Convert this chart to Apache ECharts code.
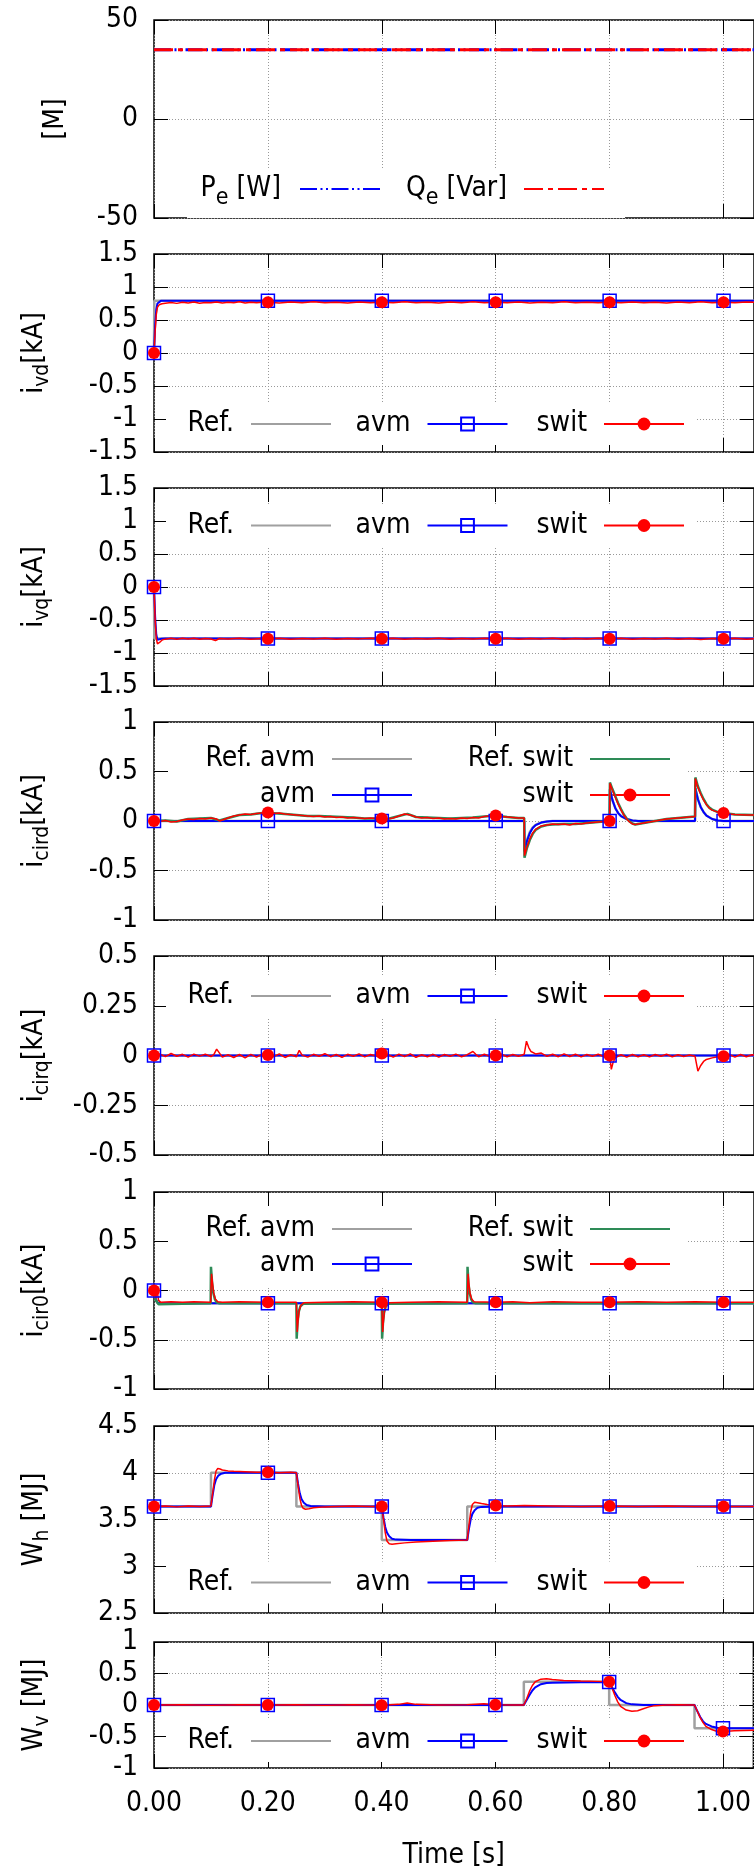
<!DOCTYPE html>
<html><head><meta charset="utf-8">
<script src="https://cdn.jsdelivr.net/npm/echarts@6/dist/echarts.min.js"></script>
<style>html,body{margin:0;padding:0;background:#fff}#c{width:754px;height:1874px}</style>
</head><body><div id="c"></div>
<script>
// ---------------- DATA ----------------
const markTimes = [0, 0.2, 0.4, 0.6, 0.8, 1.0];
const xTickLabels = ['0.00','0.20','0.40','0.60','0.80','1.00'];

// Panel 1: P_e, Q_e [M]
const pe = [[0,35],[1.06,35]];
const qe = [[0,35],[1.06,35]];

// Panel 2: i_vd [kA]
const ivdRef = [[0,0],[0.0005,0.79],[1.06,0.79]];
const ivdAvm = [[0,0],[0.002,0.42],[0.004,0.66],[0.006,0.75],[0.008,0.78],[0.012,0.79],[0.2,0.79],[0.4,0.79],[0.6,0.79],[0.8,0.79],[1.0,0.79],[1.06,0.79]];
const ivdSwit = [[0,0],[0.002,0.33],[0.004,0.58],[0.006,0.69],[0.009,0.73],[0.014,0.745],[0.02,0.755],[0.03,0.765],[0.04,0.752],[0.05,0.768],[0.06,0.758],[0.07,0.772],[0.08,0.755],[0.09,0.766],[0.1,0.76],[0.11,0.774],[0.12,0.757],[0.13,0.768],[0.14,0.762],[0.15,0.775],[0.16,0.758],[0.17,0.77],[0.18,0.76],[0.19,0.768],[0.2,0.77],[0.22,0.758],[0.24,0.772],[0.26,0.762],[0.28,0.775],[0.3,0.76],[0.32,0.77],[0.34,0.758],[0.36,0.773],[0.38,0.763],[0.4,0.77],[0.42,0.76],[0.44,0.775],[0.46,0.762],[0.48,0.77],[0.5,0.757],[0.52,0.772],[0.54,0.762],[0.56,0.776],[0.58,0.76],[0.6,0.77],[0.62,0.76],[0.64,0.773],[0.66,0.758],[0.68,0.77],[0.7,0.762],[0.72,0.775],[0.74,0.76],[0.76,0.77],[0.78,0.762],[0.8,0.77],[0.82,0.76],[0.84,0.774],[0.86,0.762],[0.88,0.77],[0.9,0.758],[0.92,0.772],[0.94,0.762],[0.96,0.775],[0.98,0.76],[1.0,0.77],[1.02,0.762],[1.04,0.772],[1.06,0.765]];

// Panel 3: i_vq [kA]
const ivqRef = [[0,0],[0.0005,-0.78],[1.06,-0.78]];
const ivqAvm = [[0,0],[0.002,-0.45],[0.004,-0.72],[0.006,-0.8],[0.009,-0.805],[0.013,-0.785],[0.02,-0.78],[0.2,-0.78],[0.4,-0.78],[0.6,-0.78],[0.8,-0.78],[1.0,-0.78],[1.06,-0.78]];
const ivqSwit = [[0,0],[0.002,-0.5],[0.004,-0.78],[0.006,-0.86],[0.008,-0.865],[0.011,-0.83],[0.015,-0.8],[0.02,-0.79],[0.03,-0.775],[0.04,-0.79],[0.05,-0.778],[0.06,-0.788],[0.07,-0.775],[0.08,-0.79],[0.09,-0.78],[0.1,-0.787],[0.108,-0.81],[0.115,-0.78],[0.13,-0.788],[0.15,-0.776],[0.17,-0.79],[0.19,-0.78],[0.2,-0.785],[0.22,-0.776],[0.24,-0.79],[0.26,-0.78],[0.28,-0.788],[0.3,-0.775],[0.32,-0.79],[0.34,-0.78],[0.36,-0.786],[0.38,-0.776],[0.4,-0.785],[0.42,-0.778],[0.44,-0.79],[0.46,-0.78],[0.48,-0.788],[0.5,-0.776],[0.52,-0.79],[0.54,-0.78],[0.56,-0.787],[0.58,-0.777],[0.6,-0.785],[0.62,-0.778],[0.64,-0.79],[0.66,-0.78],[0.68,-0.786],[0.7,-0.776],[0.72,-0.79],[0.74,-0.78],[0.76,-0.787],[0.78,-0.777],[0.8,-0.785],[0.82,-0.778],[0.84,-0.79],[0.86,-0.78],[0.88,-0.788],[0.9,-0.776],[0.92,-0.79],[0.94,-0.78],[0.96,-0.795],[0.98,-0.782],[1.0,-0.785],[1.02,-0.778],[1.04,-0.79],[1.06,-0.782]];

// Panel 4: i_cird [kA]
const icirdRefAvm = [[0,0],[0.65,0],[0.6505,-0.3],[0.655,-0.19],[0.66,-0.11],[0.665,-0.065],[0.67,-0.04],[0.68,-0.015],[0.69,-0.005],[0.7,0],[0.8,0],[0.8005,0.32],[0.805,0.21],[0.81,0.13],[0.815,0.08],[0.82,0.05],[0.83,0.02],[0.84,0.005],[0.85,0],[0.95,0],[0.9505,0.33],[0.955,0.22],[0.96,0.14],[0.965,0.09],[0.97,0.055],[0.98,0.02],[0.99,0.005],[1.0,0],[1.06,0]];
const icirdAvm = [[0,0],[0.2,0],[0.4,0],[0.6,0],[0.65,0],[0.6505,-0.31],[0.655,-0.2],[0.66,-0.12],[0.665,-0.07],[0.67,-0.042],[0.68,-0.016],[0.69,-0.006],[0.7,0],[0.8,0],[0.8005,0.32],[0.805,0.21],[0.81,0.13],[0.815,0.08],[0.82,0.05],[0.83,0.02],[0.84,0.005],[0.85,0],[0.95,0],[0.9505,0.33],[0.955,0.22],[0.96,0.14],[0.965,0.09],[0.97,0.055],[0.98,0.02],[0.99,0.005],[1.0,0],[1.06,0]];
const icirdRefSwit = [[0,0],[0.02,0.005],[0.04,-0.005],[0.06,0.02],[0.08,0.025],[0.1,0.03],[0.115,0.005],[0.13,0.03],[0.15,0.06],[0.17,0.065],[0.19,0.08],[0.21,0.078],[0.23,0.07],[0.25,0.06],[0.27,0.05],[0.29,0.05],[0.31,0.045],[0.33,0.04],[0.35,0.035],[0.37,0.025],[0.39,0.025],[0.41,0.02],[0.43,0.05],[0.445,0.072],[0.46,0.04],[0.48,0.035],[0.5,0.03],[0.52,0.025],[0.54,0.03],[0.56,0.035],[0.58,0.045],[0.6,0.055],[0.62,0.04],[0.64,0.03],[0.65,0.03],[0.6505,-0.37],[0.655,-0.27],[0.66,-0.19],[0.665,-0.13],[0.67,-0.09],[0.68,-0.055],[0.69,-0.04],[0.7,-0.035],[0.72,-0.03],[0.74,-0.03],[0.76,-0.02],[0.78,-0.01],[0.8,0],[0.8005,0.39],[0.805,0.32],[0.81,0.25],[0.815,0.18],[0.82,0.12],[0.825,0.065],[0.83,0.025],[0.835,-0.005],[0.84,-0.025],[0.845,-0.035],[0.85,-0.03],[0.86,-0.02],[0.88,0],[0.9,0.02],[0.92,0.03],[0.94,0.04],[0.95,0.045],[0.9505,0.44],[0.955,0.35],[0.96,0.28],[0.965,0.22],[0.97,0.17],[0.975,0.135],[0.98,0.115],[0.99,0.09],[1.0,0.08],[1.02,0.065],[1.06,0.06]];
const icirdSwit = [[0,0],[0.01,-0.005],[0.02,0.005],[0.03,-0.01],[0.04,-0.005],[0.05,0.01],[0.06,0.02],[0.07,0.015],[0.08,0.025],[0.09,0.02],[0.1,0.03],[0.11,0.02],[0.115,0.0],[0.12,0.01],[0.13,0.03],[0.14,0.05],[0.15,0.06],[0.16,0.07],[0.17,0.065],[0.18,0.075],[0.19,0.08],[0.2,0.085],[0.21,0.075],[0.22,0.08],[0.23,0.07],[0.24,0.065],[0.25,0.06],[0.26,0.055],[0.27,0.05],[0.28,0.045],[0.29,0.05],[0.3,0.04],[0.31,0.045],[0.32,0.035],[0.33,0.04],[0.34,0.03],[0.35,0.035],[0.36,0.03],[0.37,0.025],[0.38,0.03],[0.39,0.025],[0.4,0.025],[0.41,0.02],[0.42,0.03],[0.43,0.05],[0.44,0.07],[0.45,0.06],[0.46,0.04],[0.47,0.03],[0.48,0.035],[0.49,0.025],[0.5,0.03],[0.51,0.02],[0.52,0.025],[0.53,0.02],[0.54,0.03],[0.55,0.025],[0.56,0.035],[0.57,0.03],[0.58,0.045],[0.59,0.05],[0.6,0.055],[0.61,0.045],[0.62,0.04],[0.63,0.035],[0.64,0.03],[0.65,0.03],[0.6505,-0.35],[0.655,-0.26],[0.66,-0.18],[0.665,-0.12],[0.67,-0.085],[0.68,-0.05],[0.69,-0.04],[0.7,-0.03],[0.71,-0.035],[0.72,-0.03],[0.73,-0.04],[0.74,-0.025],[0.75,-0.03],[0.76,-0.02],[0.77,-0.015],[0.78,-0.01],[0.79,-0.005],[0.8,0],[0.8005,0.38],[0.805,0.31],[0.81,0.24],[0.815,0.17],[0.82,0.11],[0.825,0.06],[0.83,0.02],[0.835,-0.01],[0.84,-0.03],[0.845,-0.035],[0.85,-0.03],[0.86,-0.02],[0.87,-0.01],[0.88,0.0],[0.89,0.01],[0.9,0.02],[0.91,0.025],[0.92,0.03],[0.93,0.035],[0.94,0.04],[0.95,0.045],[0.9505,0.43],[0.955,0.34],[0.96,0.27],[0.965,0.21],[0.97,0.165],[0.975,0.13],[0.98,0.11],[0.99,0.09],[1.0,0.08],[1.01,0.07],[1.02,0.065],[1.04,0.06],[1.06,0.06]];

// Panel 5: i_cirq [kA]
const icirqRef = [[0,0],[1.06,0]];
const icirqAvm = [[0,0],[0.2,0],[0.4,0],[0.6,0],[0.8,0],[1.0,0],[1.06,0]];
const icirqSwit = [[0,0],[0.01,0.008],[0.02,-0.006],[0.03,0.01],[0.04,-0.004],[0.05,0.006],[0.06,-0.008],[0.07,0.007],[0.08,-0.003],[0.09,0.006],[0.1,-0.005],[0.105,0.004],[0.11,0.032],[0.115,0.012],[0.12,-0.008],[0.13,0.004],[0.14,-0.01],[0.15,0.005],[0.16,-0.012],[0.17,0.006],[0.18,-0.008],[0.19,0.007],[0.2,0.002],[0.21,-0.006],[0.22,0.008],[0.23,-0.01],[0.24,0.004],[0.25,-0.006],[0.255,0.026],[0.26,0.002],[0.27,-0.008],[0.28,0.006],[0.29,-0.004],[0.3,0.009],[0.31,-0.006],[0.32,0.005],[0.33,-0.009],[0.34,0.006],[0.35,-0.004],[0.36,0.008],[0.37,-0.007],[0.38,0.005],[0.39,-0.003],[0.4,0.01],[0.405,-0.012],[0.41,0.006],[0.42,-0.008],[0.43,0.007],[0.44,-0.005],[0.45,0.008],[0.46,-0.009],[0.47,0.004],[0.48,-0.006],[0.49,0.006],[0.5,-0.008],[0.51,0.005],[0.52,-0.004],[0.53,0.007],[0.54,-0.006],[0.55,0.004],[0.56,0.02],[0.565,0.006],[0.57,-0.006],[0.58,0.006],[0.59,-0.005],[0.6,0.0],[0.61,0.007],[0.62,-0.006],[0.63,0.005],[0.64,-0.004],[0.65,0.006],[0.654,0.072],[0.658,0.04],[0.662,0.02],[0.67,0.008],[0.68,0.012],[0.69,-0.004],[0.7,0.006],[0.71,-0.006],[0.72,0.008],[0.73,-0.005],[0.74,0.006],[0.75,-0.007],[0.76,0.005],[0.77,-0.004],[0.78,0.006],[0.79,-0.006],[0.8,0.0],[0.803,-0.07],[0.806,-0.035],[0.81,-0.012],[0.82,0.004],[0.83,-0.008],[0.84,0.005],[0.85,-0.006],[0.86,0.004],[0.87,-0.007],[0.88,0.005],[0.89,-0.004],[0.9,0.006],[0.91,-0.006],[0.92,0.004],[0.93,-0.005],[0.94,0.003],[0.95,-0.004],[0.955,-0.079],[0.96,-0.05],[0.965,-0.03],[0.97,-0.02],[0.98,-0.012],[0.99,-0.006],[1.0,-0.004],[1.01,0.006],[1.02,-0.008],[1.03,0.005],[1.04,-0.006],[1.05,0.004],[1.06,0]];

// Panel 6: i_cir0 [kA]
const icir0RefAvm = [[0,0],[0.003,-0.08],[0.006,-0.12],[0.01,-0.13],[1.06,-0.13]];
const icir0Avm = [[0,0],[0.003,-0.09],[0.006,-0.125],[0.01,-0.13],[0.2,-0.13],[0.4,-0.13],[0.6,-0.13],[0.8,-0.13],[1.0,-0.13],[1.06,-0.13]];
const icir0RefSwit = [[0,0],[0.003,-0.1],[0.008,-0.14],[0.05,-0.135],[0.0995,-0.13],[0.1,0.24],[0.102,0.08],[0.104,-0.02],[0.107,-0.09],[0.11,-0.12],[0.115,-0.13],[0.25,-0.13],[0.2505,-0.49],[0.252,-0.33],[0.254,-0.22],[0.257,-0.16],[0.262,-0.135],[0.4,-0.13],[0.4005,-0.49],[0.402,-0.33],[0.404,-0.22],[0.407,-0.16],[0.412,-0.135],[0.55,-0.13],[0.5505,0.24],[0.552,0.08],[0.554,-0.02],[0.557,-0.09],[0.56,-0.12],[0.565,-0.13],[1.06,-0.13]];
const icir0Swit = [[0,0],[0.003,-0.08],[0.005,0.02],[0.008,-0.1],[0.012,-0.12],[0.03,-0.115],[0.05,-0.12],[0.07,-0.115],[0.0995,-0.12],[0.101,0.17],[0.103,0.06],[0.105,-0.03],[0.108,-0.09],[0.112,-0.115],[0.12,-0.12],[0.15,-0.115],[0.2,-0.12],[0.25,-0.12],[0.2515,-0.42],[0.253,-0.3],[0.255,-0.2],[0.258,-0.15],[0.263,-0.125],[0.3,-0.12],[0.35,-0.115],[0.4,-0.12],[0.4015,-0.42],[0.403,-0.3],[0.405,-0.2],[0.408,-0.15],[0.413,-0.125],[0.45,-0.12],[0.5,-0.115],[0.55,-0.12],[0.5515,0.17],[0.553,0.06],[0.555,-0.03],[0.558,-0.09],[0.562,-0.115],[0.6,-0.12],[0.63,-0.115],[0.66,-0.125],[0.7,-0.115],[0.75,-0.12],[0.8,-0.12],[0.85,-0.115],[0.9,-0.12],[0.95,-0.115],[1.0,-0.12],[1.06,-0.12]];

// Panel 7: W_h [MJ]
const whRef = [[0,3.64],[0.1,3.64],[0.1,4.0],[0.25,4.0],[0.25,3.64],[0.4,3.64],[0.4,3.28],[0.55,3.28],[0.55,3.64],[1.06,3.64]];
const whAvm = [[0,3.64],[0.1,3.64],[0.103,3.76],[0.106,3.87],[0.109,3.93],[0.113,3.97],[0.118,3.99],[0.125,4.0],[0.2,4.0],[0.25,4.0],[0.253,3.88],[0.256,3.78],[0.259,3.72],[0.263,3.68],[0.268,3.655],[0.275,3.645],[0.3,3.64],[0.4,3.64],[0.403,3.52],[0.406,3.42],[0.409,3.36],[0.413,3.32],[0.418,3.295],[0.425,3.285],[0.45,3.28],[0.55,3.28],[0.553,3.4],[0.556,3.5],[0.559,3.56],[0.563,3.6],[0.568,3.625],[0.575,3.635],[0.6,3.64],[0.8,3.64],[1.0,3.64],[1.06,3.64]];
const whSwit = [[0,3.64],[0.02,3.645],[0.04,3.635],[0.06,3.645],[0.08,3.64],[0.1,3.645],[0.103,3.78],[0.106,3.92],[0.109,4.02],[0.112,4.045],[0.116,4.04],[0.12,4.03],[0.13,4.02],[0.14,4.015],[0.16,4.01],[0.18,4.005],[0.2,4.005],[0.22,4.0],[0.24,4.005],[0.25,4.0],[0.253,3.86],[0.256,3.73],[0.259,3.65],[0.262,3.62],[0.266,3.61],[0.272,3.615],[0.28,3.625],[0.29,3.63],[0.3,3.635],[0.32,3.64],[0.35,3.645],[0.38,3.64],[0.4,3.64],[0.403,3.5],[0.406,3.36],[0.409,3.27],[0.413,3.24],[0.418,3.235],[0.425,3.24],[0.44,3.25],[0.46,3.26],[0.48,3.265],[0.5,3.27],[0.52,3.275],[0.55,3.28],[0.553,3.44],[0.556,3.58],[0.559,3.66],[0.563,3.685],[0.568,3.68],[0.575,3.67],[0.585,3.66],[0.6,3.65],[0.62,3.645],[0.65,3.65],[0.7,3.645],[0.75,3.64],[0.8,3.645],[0.85,3.64],[0.9,3.645],[0.95,3.64],[1.0,3.64],[1.06,3.64]];

// Panel 8: W_v [MJ]
const wvRef = [[0,0],[0.65,0],[0.65,0.37],[0.8,0.37],[0.8,0],[0.95,0],[0.95,-0.37],[1.06,-0.37]];
const wvAvm = [[0,0],[0.2,0],[0.4,0],[0.6,0],[0.65,0],[0.655,0.08],[0.66,0.16],[0.665,0.23],[0.67,0.28],[0.68,0.33],[0.69,0.35],[0.7,0.355],[0.75,0.36],[0.8,0.365],[0.805,0.28],[0.81,0.2],[0.815,0.13],[0.82,0.08],[0.83,0.03],[0.84,0.01],[0.86,0],[0.95,0],[0.955,-0.1],[0.96,-0.19],[0.965,-0.26],[0.97,-0.3],[0.98,-0.34],[0.99,-0.36],[1.0,-0.37],[1.06,-0.37]];
const wvSwit = [[0,0],[0.05,0.005],[0.1,-0.005],[0.15,0.004],[0.2,0],[0.25,0.005],[0.3,-0.005],[0.35,0.004],[0.4,-0.003],[0.43,0.01],[0.445,0.03],[0.46,0.01],[0.5,0.0],[0.55,0.005],[0.58,0.02],[0.6,0.005],[0.63,0.0],[0.65,0],[0.655,0.1],[0.66,0.22],[0.665,0.31],[0.67,0.37],[0.68,0.41],[0.69,0.415],[0.7,0.405],[0.72,0.39],[0.75,0.38],[0.78,0.375],[0.8,0.37],[0.805,0.27],[0.81,0.15],[0.815,0.05],[0.82,-0.02],[0.83,-0.08],[0.84,-0.1],[0.85,-0.09],[0.86,-0.06],[0.87,-0.03],[0.88,-0.01],[0.9,0.0],[0.92,0.005],[0.95,0.0],[0.955,-0.1],[0.96,-0.2],[0.965,-0.28],[0.97,-0.34],[0.98,-0.39],[0.99,-0.42],[1.0,-0.42],[1.02,-0.41],[1.06,-0.4]];

// ---------------- STYLE / LAYOUT ----------------
const FONT = '"DejaVu Sans Condensed", "DejaVu Sans", sans-serif';
const FS = 28;
const XMAX = 1.0535;
const GL = 154, GW = 602;
const isMark = t => markTimes.some(m => Math.abs(m - t) < 1e-9);

const panels = [
  {top:20,   h:198, min:-50, max:50,  iv:50,   name:'[M]', gap:84},
  {top:254,  h:198, min:-1.5, max:1.5, iv:0.5, name:'{m|i}{s|vd}{m|[kA]}', gap:102},
  {top:488,  h:198, min:-1.5, max:1.5, iv:0.5, name:'{m|i}{s|vq}{m|[kA]}', gap:102},
  {top:722,  h:198, min:-1,  max:1,   iv:0.5,  name:'{m|i}{s|cird}{m|[kA]}', gap:102},
  {top:956,  h:199, min:-0.5, max:0.5, iv:0.25, name:'{m|i}{s|cirq}{m|[kA]}', gap:102},
  {top:1192, h:197, min:-1,  max:1,   iv:0.5,  name:'{m|i}{s|cir0}{m|[kA]}', gap:102},
  {top:1426, h:187, min:2.5, max:4.5, iv:0.5,  name:'{m|W}{s|h}{m| [MJ]}', gap:102},
  {top:1642, h:126, min:-1,  max:1,   iv:0.5,  name:'{m|W}{s|v}{m| [MJ]}', gap:102}
];

// subscript: top-aligned token pushed down by its top padding
const rich = {
  m: {fontFamily: FONT, fontSize: FS, color: '#000', lineHeight: 34, verticalAlign: 'middle'},
  s: {fontFamily: FONT, fontSize: 21, color: '#000', lineHeight: 1, verticalAlign: 'top', padding: [14, 0, 0, 0]}
};

const grid = [], xAxis = [], yAxis = [];
const dotted = () => ({show: true, lineStyle: {color: '#999', width: 1, type: [1, 2]}});
const tick = () => ({inside: true, length: 14, lineStyle: {color: '#000', width: 1}});
panels.forEach((p, k) => {
  grid.push({left: GL, width: GW, top: p.top, height: p.h, show: true, borderColor: '#000', borderWidth: 1.5, backgroundColor: 'transparent'});
  const last = k === panels.length - 1;
  xAxis.push({
    gridIndex: k, type: 'value', min: 0, max: XMAX, interval: 0.2, position: 'bottom',
    axisLine: {show: false, onZero: false}, axisTick: tick(),
    axisLabel: {show: last, color: '#000', fontFamily: FONT, fontSize: FS, margin: 22, showMaxLabel: false,
      formatter: v => { const i = Math.round(v / 0.2); return Math.abs(v - i * 0.2) < 1e-9 ? (xTickLabels[i] || '') : ''; }},
    splitLine: dotted(),
    name: last ? 'Time [s]' : '', nameLocation: 'middle', nameGap: 74,
    nameTextStyle: {fontFamily: FONT, fontSize: FS, color: '#000'}
  });
  xAxis.push({
    gridIndex: k, type: 'value', min: 0, max: XMAX, interval: 0.2, position: 'top',
    axisLine: {show: false, onZero: false}, axisTick: tick(),
    axisLabel: {show: false}, splitLine: {show: false}
  });
  yAxis.push({
    gridIndex: k, type: 'value', min: p.min, max: p.max, interval: p.iv, position: 'left',
    axisLine: {show: false, onZero: false}, axisTick: tick(),
    axisLabel: {color: '#000', fontFamily: FONT, fontSize: FS, margin: 16},
    splitLine: dotted(),
    name: p.name, nameLocation: 'middle', nameRotate: 90, nameGap: p.gap,
    nameTextStyle: {fontFamily: FONT, fontSize: FS, color: '#000', rich: rich}
  });
  yAxis.push({
    gridIndex: k, type: 'value', min: p.min, max: p.max, interval: p.iv, position: 'right',
    axisLine: {show: false, onZero: false}, axisTick: tick(),
    axisLabel: {show: false}, splitLine: {show: false}
  });
});

const KIND = {
  ref:   {symbol: 'none', line: {color: '#a0a0a0', width: 2.5}, item: {color: 'transparent'}},
  refsw: {symbol: 'none', line: {color: '#2e8b57', width: 2.5}, item: {color: 'transparent'}},
  avm:   {symbol: 'rect', size: 13, line: {color: '#0000ff', width: 2}, item: {color: 'transparent', borderColor: '#0000ff', borderWidth: 1.5}},
  swit:  {symbol: 'circle', size: 12, line: {color: '#ff0000', width: 1.5}, item: {color: '#ff0000'}},
  pe:    {symbol: 'none', line: {color: '#0000ff', width: 3, type: [17, 3.5, 2, 3.5, 2, 3.5]}, item: {color: 'transparent'}},
  qe:    {symbol: 'none', line: {color: '#ff0000', width: 3, type: [19, 5, 5, 5]}, item: {color: 'transparent'}}
};
const series = [];
function add(k, name, data, kind) {
  const K = KIND[kind];
  const s = {
    type: 'line', name, xAxisIndex: 2 * k, yAxisIndex: 2 * k, data,
    symbol: K.symbol, lineStyle: K.line, itemStyle: K.item,
    emphasis: {disabled: true}, silent: true, animation: false, z: 2
  };
  if (K.size) { s.symbolSize = v => isMark(v[0]) ? K.size : 0; s.showAllSymbol = true; }
  series.push(s);
}
add(0, 'Pe', pe, 'pe'); add(0, 'Qe', qe, 'qe');
add(1, 'Ref.', ivdRef, 'ref'); add(1, 'avm', ivdAvm, 'avm'); add(1, 'swit', ivdSwit, 'swit');
add(2, 'Ref.', ivqRef, 'ref'); add(2, 'avm', ivqAvm, 'avm'); add(2, 'swit', ivqSwit, 'swit');
add(3, 'Ref. avm', icirdRefAvm, 'ref'); add(3, 'avm', icirdAvm, 'avm'); add(3, 'Ref. swit', icirdRefSwit, 'refsw'); add(3, 'swit', icirdSwit, 'swit');
add(4, 'Ref.', icirqRef, 'ref'); add(4, 'avm', icirqAvm, 'avm'); add(4, 'swit', icirqSwit, 'swit');
add(5, 'Ref. avm', icir0RefAvm, 'ref'); add(5, 'avm', icir0Avm, 'avm'); add(5, 'Ref. swit', icir0RefSwit, 'refsw'); add(5, 'swit', icir0Swit, 'swit');
add(6, 'Ref.', whRef, 'ref'); add(6, 'avm', whAvm, 'avm'); add(6, 'swit', whSwit, 'swit');
add(7, 'Ref.', wvRef, 'ref'); add(7, 'avm', wvAvm, 'avm'); add(7, 'swit', wvSwit, 'swit');

function legend(o) {
  return {
    data: o.names, left: o.left, top: o.top, orient: 'horizontal', align: 'right',
    itemWidth: 80, itemHeight: 16, itemGap: o.gap || 10, width: 700,
    padding: o.pad, backgroundColor: '#fff', selectedMode: false, z: 1,
    formatter: o.formatter,
    textStyle: {fontFamily: FONT, fontSize: FS, color: '#000', width: o.W, height: 20, align: 'right',
      padding: [0, o.padR, 0, 0], lineHeight: 20, rich: o.rich}
  };
}
// row centre y -> legend top = centre - 10 - padTop
const single = (cy) => legend({names: ['Ref.', 'avm', 'swit'], left: 166, top: cy - 17, gap: 20.5, W: 58, padR: 12, pad: [7, 10, 7, 10]});
const dual = (cy, names) => legend({names: names, left: 168, top: cy - 18, gap: 16, W: 144, padR: 12, pad: [8, 15, 8, 3]});
const legendRich = {
  m: {fontFamily: FONT, fontSize: FS, color: '#000', lineHeight: 20, verticalAlign: 'middle'},
  s: {fontFamily: FONT, fontSize: 23, color: '#000', lineHeight: 1, verticalAlign: 'top', padding: [8, 0, 0, 0]}
};
const legends = [
  legend({names: ['Pe'], left: 187, top: 168, W: 84, padR: 14, pad: [7, 10, 8, 10], rich: legendRich,
    formatter: () => '{m|P}{s|e}{m| [W]}'}),
  legend({names: ['Qe'], left: 390, top: 168, W: 108, padR: 12, pad: [7, 20, 8, 9], rich: legendRich,
    formatter: () => '{m|Q}{s|e}{m| [Var]}'}),
  single(420),
  single(521.5),
  dual(755, ['Ref. avm', 'Ref. swit']),
  dual(791, ['avm', 'swit']),
  single(992),
  dual(1225, ['Ref. avm', 'Ref. swit']),
  dual(1260, ['avm', 'swit']),
  single(1578.5),
  single(1737)
];

const chart = echarts.init(document.getElementById('c'), null, {renderer: 'canvas'});
chart.setOption({
  animation: false,
  backgroundColor: '#fff',
  textStyle: {fontFamily: FONT},
  grid, xAxis, yAxis, series, legend: legends
});
</script>
</body></html>
